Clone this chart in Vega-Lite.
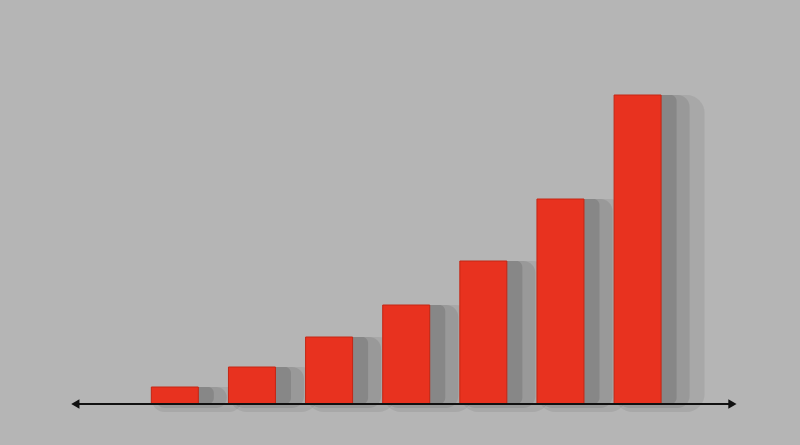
{
  "$schema": "https://vega.github.io/schema/vega-lite/v6.json",
  "width": 800,
  "height": 445,
  "padding": 0,
  "autosize": {"type": "fit", "contains": "padding"},
  "background": "#b5b5b5",
  "datasets": {
    "bars": [
      {"step": 1, "value": 17},
      {"step": 2, "value": 37},
      {"step": 3, "value": 67},
      {"step": 4, "value": 99},
      {"step": 5, "value": 143},
      {"step": 6, "value": 205},
      {"step": 7, "value": 309}
    ],
    "axis": [
      {"pos": -0.31, "end": 8.25, "level": 0}
    ],
    "arrows": [
      {"pos": -0.29, "level": 0, "dir": "left"},
      {"pos": 8.23, "level": 0, "dir": "right"}
    ]
  },
  "layer": [
    {
      "data": {"name": "bars"},
      "mark": {"type": "bar", "color": "#1c1c1c", "opacity": 0.08, "size": 90, "xOffset": 22, "cornerRadius": 18},
      "encoding": {
        "x": {"field": "step", "type": "quantitative", "scale": {"domain": [-1.202, 9.041], "nice": false, "zero": false}, "axis": null},
        "y": {"field": "value", "type": "quantitative", "scale": {"domain": [-41, 404], "nice": false, "zero": false}, "axis": null},
        "y2": {"datum": -8}
      }
    },
    {
      "data": {"name": "bars"},
      "mark": {"type": "bar", "color": "#1c1c1c", "opacity": 0.1, "size": 72, "xOffset": 16, "cornerRadius": 12},
      "encoding": {
        "x": {"field": "step", "type": "quantitative"},
        "y": {"field": "value", "type": "quantitative"},
        "y2": {"datum": -4}
      }
    },
    {
      "data": {"name": "bars"},
      "mark": {"type": "bar", "color": "#1c1c1c", "opacity": 0.14, "size": 58, "xOffset": 10, "cornerRadius": 6},
      "encoding": {
        "x": {"field": "step", "type": "quantitative"},
        "y": {"field": "value", "type": "quantitative"},
        "y2": {"datum": 0}
      }
    },
    {
      "data": {"name": "bars"},
      "mark": {"type": "bar", "color": "#e8321f", "size": 47, "stroke": "#c42614", "strokeWidth": 1},
      "encoding": {
        "x": {"field": "step", "type": "quantitative"},
        "y": {"field": "value", "type": "quantitative"},
        "y2": {"datum": 0}
      }
    },
    {
      "data": {"name": "axis"},
      "mark": {"type": "rule", "color": "#111111", "strokeWidth": 2},
      "encoding": {
        "x": {"field": "pos", "type": "quantitative"},
        "x2": {"field": "end"},
        "y": {"field": "level", "type": "quantitative"}
      }
    },
    {
      "data": {"name": "arrows"},
      "mark": {"type": "point", "filled": true, "color": "#111111", "size": 90, "opacity": 1},
      "encoding": {
        "x": {"field": "pos", "type": "quantitative"},
        "y": {"field": "level", "type": "quantitative"},
        "shape": {
          "field": "dir",
          "type": "nominal",
          "scale": {"domain": ["left", "right"], "range": ["triangle-left", "triangle-right"]},
          "legend": null
        }
      }
    }
  ],
  "config": {
    "view": {"stroke": null}
  }
}
